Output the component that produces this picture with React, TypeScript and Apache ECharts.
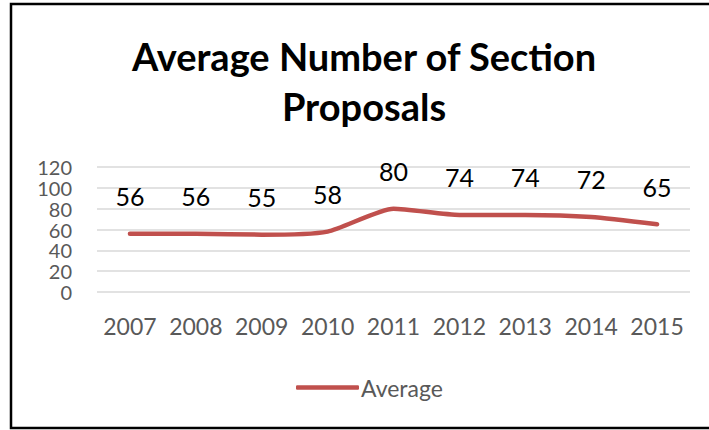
import React, { useEffect, useRef } from "react";
import * as echarts from "echarts";

const years = ["2007", "2008", "2009", "2010", "2011", "2012", "2013", "2014", "2015"];
const averageValues = [56, 56, 55, 58, 80, 74, 74, 72, 65];
const titleLines = ["Average Number of Section", "Proposals"];
const seriesName = "Average";
const yMin = 0;
const yMax = 120;
const yStep = 20;

export default function App() {
  const ref = useRef<HTMLDivElement>(null);
  useEffect(() => {
    if (!ref.current) return;
    const chart = echarts.init(ref.current, null, { renderer: "svg" });
    const labelAxis = (showEven: boolean) => ({
      type: "value",
      min: yMin,
      max: yMax,
      interval: yStep,
      position: "left",
      offset: 0,
      axisLine: { show: false },
      axisTick: { show: false },
      splitLine: { show: false },
      axisLabel: {
        showMinLabel: true,
        showMaxLabel: true,
        hideOverlap: false,
        formatter: (v: number) => ((v / yStep) % 2 === 0) === showEven ? String(v) : "",
        fontFamily: "Lato",
        fontSize: 20,
        lineHeight: 18,
        color: "#595959",
        margin: 25,
      },
    });
    chart.setOption({
      animation: false,
      backgroundColor: "#ffffff",
      graphic: [
        {
          type: "rect",
          shape: { x: 11, y: 4, width: 720, height: 424 },
          style: { fill: "none", stroke: "#000000", lineWidth: 2.5 },
          silent: true,
        },
        {
          type: "text",
          x: 364,
          y: 56,
          style: {
            text: titleLines[0],
            textAlign: "center",
            textVerticalAlign: "middle",
            font: "bold 38px Lato",
            fill: "#000000",
          },
        },
        {
          type: "text",
          x: 364,
          y: 106,
          style: {
            text: titleLines[1],
            textAlign: "center",
            textVerticalAlign: "middle",
            font: "bold 38px Lato",
            fill: "#000000",
          },
        },
      ],
      grid: { left: 97, right: 19, top: 167, bottom: 138, containLabel: false },
      legend: {
        data: [{ name: seriesName, icon: "roundRect" }],
        left: 291,
        top: 371,
        itemWidth: 63,
        itemHeight: 4.5,
        textStyle: { fontFamily: "Lato", fontSize: 23, color: "#595959", padding: [0, 0, 0, -3] },
      },
      xAxis: {
        type: "category",
        data: years,
        boundaryGap: true,
        axisLine: { show: false },
        axisTick: { show: false },
        axisLabel: {
          interval: 0,
          hideOverlap: false,
          fontFamily: "Lato",
          fontSize: 23,
          color: "#595959",
          margin: 22,
        },
      },
      yAxis: [
        {
          type: "value",
          min: yMin,
          max: yMax,
          interval: yStep,
          position: "left",
          offset: 0,
          axisLine: { show: false },
          axisTick: { show: false },
          axisLabel: { show: false },
          splitLine: { lineStyle: { color: "#D9D9D9", width: 1.5 } },
        },
        labelAxis(true),
        labelAxis(false),
      ],
      series: [
        {
          name: seriesName,
          type: "line",
          yAxisIndex: 0,
          data: averageValues,
          symbol: "circle",
          symbolSize: 0.1,
          showSymbol: true,
          smooth: 0.2,
          lineStyle: { color: "#C0504D", width: 4.5, cap: "round", join: "round" },
          itemStyle: { color: "#C0504D" },
          labelLayout: { hideOverlap: false },
          label: {
            show: true,
            position: "top",
            distance: 25,
            fontFamily: "Lato",
            fontSize: 25,
            color: "#000000",
          },
        },
      ],
    });
    return () => chart.dispose();
  }, []);
  return (
    <div
      ref={ref}
      style={{ position: "fixed", left: 0, top: 0, width: 709, height: 430 }}
    />
  );
}
